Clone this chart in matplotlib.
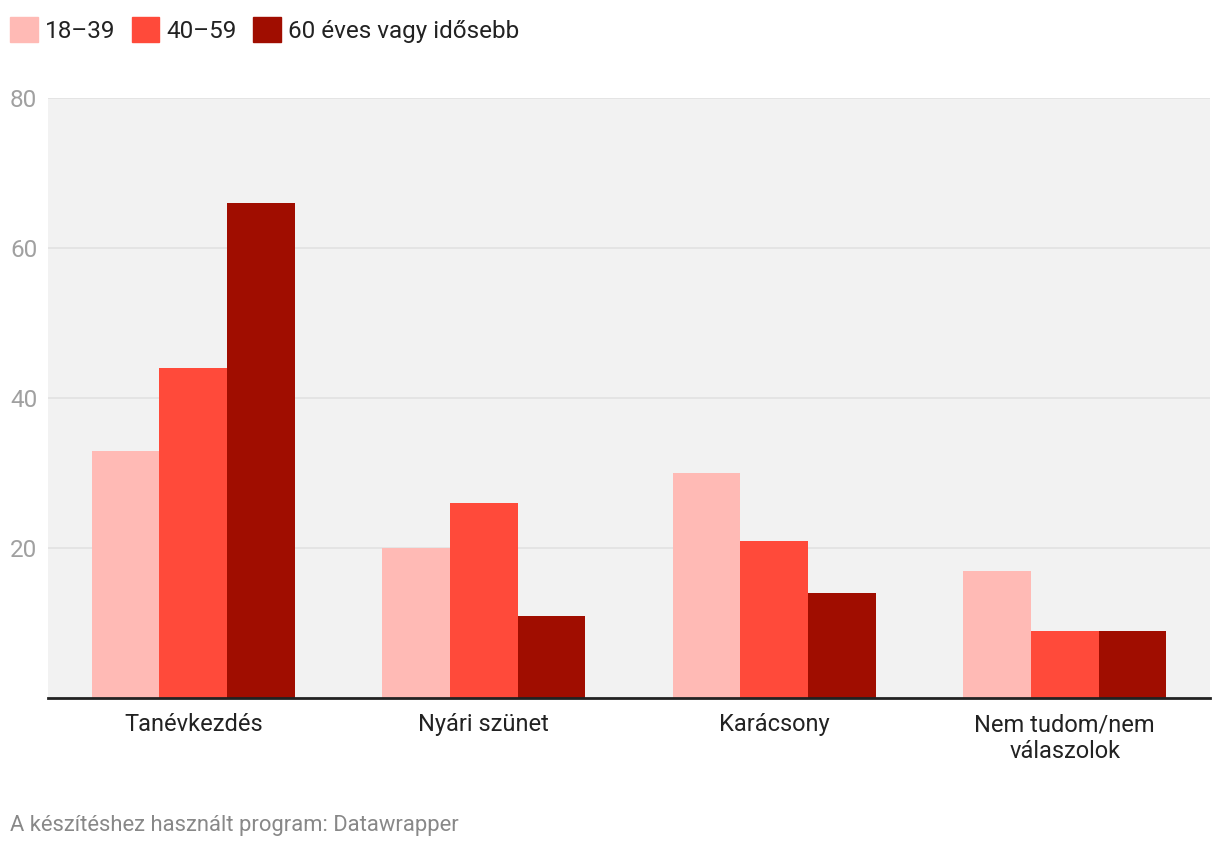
import matplotlib.pyplot as plt
import numpy as np
from matplotlib.patches import Patch

plt.rcParams['font.family'] = ['Roboto', 'DejaVu Sans']

categories = ["Tanévkezdés", "Nyári szünet", "Karácsony", "Nem tudom/nem\nválaszolok"]
series_names = ["18–39", "40–59", "60 éves vagy idősebb"]
age_18_39 = [33, 20, 30, 17]
age_40_59 = [44, 26, 21, 9]
age_60_plus = [66, 11, 14, 9]
yticks = [20, 40, 60, 80]

colors = ["#ffbab5", "#ff4a3a", "#a00d00"]

fig = plt.figure(figsize=(12.2, 8.48), dpi=100)
ax = fig.add_axes([48/1220, 1-698/848, (1210-48)/1220, 600/848])
ax.set_facecolor("#f2f2f2")

x = np.arange(len(categories))
w = 0.233
for i, vals in enumerate([age_18_39, age_40_59, age_60_plus]):
    ax.bar(x + (i-1)*w, vals, width=w, color=colors[i], zorder=3)

ax.set_xlim(-0.5, len(categories)-0.5)
ax.set_ylim(0, 80)
ax.set_yticks(yticks)
ax.yaxis.grid(True, color="#e2e2e2", linewidth=1.2, zorder=1)
ax.tick_params(axis='y', length=0, labelsize=17.5, labelcolor="#a0a0a0", pad=0)
for lbl in ax.get_yticklabels():
    lbl.set_horizontalalignment('left')
    lbl.set_x(-38/1162)
ax.set_xticks(x)
ax.set_xticklabels(categories, fontsize=17, color="#222222", linespacing=1.2)
ax.tick_params(axis='x', length=0, pad=11)
for s in ["top", "right", "left"]:
    ax.spines[s].set_visible(False)
ax.spines["bottom"].set_color("#222222")
ax.spines["bottom"].set_linewidth(2)
ax.spines["bottom"].set_zorder(4)

handles = [Patch(color=c) for c in colors]
fig.legend(handles, series_names, loc="upper left", bbox_to_anchor=(10/1220, 1-17/848),
           ncol=3, frameon=False, fontsize=17.5, handlelength=1.15, handleheight=1.2,
           handletextpad=0.3, columnspacing=0.65, borderaxespad=0, borderpad=0,
           labelcolor="#222222")

fig.text(10/1220, 1-825/848, "A készítéshez használt program: Datawrapper",
         fontsize=15.8, color="#888888", va="center", ha="left")

fig.savefig("out.png", dpi=100)
